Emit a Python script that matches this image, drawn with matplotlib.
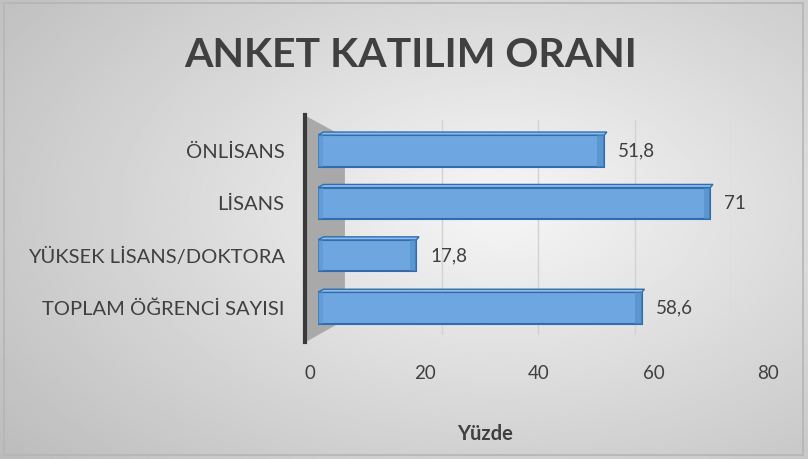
import numpy as np
import matplotlib.pyplot as plt
from matplotlib.patches import Polygon, Rectangle

categories = ['ÖNLİSANS', 'LİSANS', 'YÜKSEK LİSANS/DOKTORA', 'TOPLAM ÖĞRENCİ SAYISI']
values = [51.8, 71, 17.8, 58.6]
value_labels = ['51,8', '71', '17,8', '58,6']
ticks = [0, 20, 40, 60, 80]

plt.rcParams['font.family'] = ['Lato', 'DejaVu Sans']

fig = plt.figure(figsize=(8.08, 4.59), dpi=100)
W, H = 808.0, 459.0

# background gradient
bg = fig.add_axes([0, 0, 1, 1], zorder=-10)
yy, xx = np.mgrid[0:1:200j, 0:1:350j]
d = np.sqrt(((xx - 0.62) / 0.85) ** 2 + ((yy - 0.45) / 0.9) ** 2)
shade = 0.965 - 0.24 * d
bg.imshow(shade, cmap='gray', vmin=0, vmax=1, aspect='auto', extent=[0, 1, 0, 1])
bg.add_patch(Rectangle((0.005, 0.008), 0.989, 0.985, fill=False, ec='#b5b5b5', lw=1.2))
bg.set_xlim(0, 1)
bg.set_ylim(0, 1)
bg.axis('off')

# rear plane: gridlines (3D look, drawn at a smaller scale)
grid_ax = fig.add_axes([345 / W, 1 - 335 / H, 386 / W, 215 / H], zorder=-5)
grid_ax.set_xlim(0, 80)
grid_ax.set_facecolor('none')
grid_ax.axis('off')
for t in ticks[1:]:
    grid_ax.axvline(t, color='#d2d2d2', lw=1)

# floor plane: tick labels
tick_ax = fig.add_axes([310 / W, 1 - 340 / H, 458 / W, 0.01], zorder=-4)
tick_ax.set_xlim(0, 80)
tick_ax.set_facecolor('none')
for s in tick_ax.spines.values():
    s.set_visible(False)
tick_ax.set_yticks([])
tick_ax.set_xticks(ticks)
tick_ax.set_xticklabels([str(t) for t in ticks], fontsize=13.5, color='#404040')
tick_ax.tick_params(axis='x', length=0, pad=18)
tick_ax.set_xlabel('Yüzde', fontsize=14.5, fontweight='bold', color='#404040')
tick_ax.xaxis.set_label_coords((485 - 310) / 458, -84 / 4.59)

# front plane: bars
ax = fig.add_axes([0.3935, 0.266, 0.547, 0.468])
ax.set_facecolor('none')
for s in ax.spines.values():
    s.set_visible(False)

y = np.arange(len(categories))
ax.set_xlim(0, 80)
ax.set_ylim(len(categories) - 0.45, -0.55)

# side wall and axis line
wall = Polygon([(-0.027, 1.028), (0.061, 0.93), (0.061, 0.079), (-0.027, -0.023)],
               closed=True, transform=ax.transAxes, fc='#a9a9a9', ec='none',
               clip_on=False, zorder=1)
ax.add_patch(wall)
ax.plot([-0.029, -0.029], [-0.023, 1.033], transform=ax.transAxes, color='#3a3a3a',
        lw=3, clip_on=False, zorder=2)

ax.barh(y, values, height=0.6, color='#6ea7df', edgecolor='#2f6db0', lw=1.5, zorder=3)
# lighter top face and darker end face
for yi, v in zip(y, values):
    ax.add_patch(Polygon([(0, yi - 0.3), (1.0, yi - 0.36), (v + 0.5, yi - 0.36), (v, yi - 0.3)],
                         closed=True, fc='#8fbdea', ec='#2f6db0', lw=1, zorder=3))
    ax.add_patch(Polygon([(v - 1.2, yi - 0.3), (v, yi - 0.3), (v, yi + 0.3), (v - 1.2, yi + 0.3)],
                         closed=True, fc='#4f8cc9', ec='none', alpha=0.6, zorder=4))
    ax.add_patch(Polygon([(0, yi - 0.3), (0, yi + 0.3), (1.0, yi + 0.3), (1.0, yi - 0.3)],
                         closed=True, fc='#5a95d2', ec='none', alpha=0.5, zorder=4))

for yi, v, lab in zip(y, values, value_labels):
    ax.text(v + 2.5, yi, lab, va='center', ha='left', fontsize=13.5, color='#404040')

ax.set_xticks([])
ax.set_yticks(y)
ax.set_yticklabels(categories, fontsize=14.5, color='#404040')
ax.tick_params(axis='y', length=0, pad=24)

fig.text(0.508, 0.88, 'ANKET KATILIM ORANI', ha='center', va='center',
         fontsize=29.5, fontweight='bold', color='#404040')

fig.savefig('out.png', dpi=100)
